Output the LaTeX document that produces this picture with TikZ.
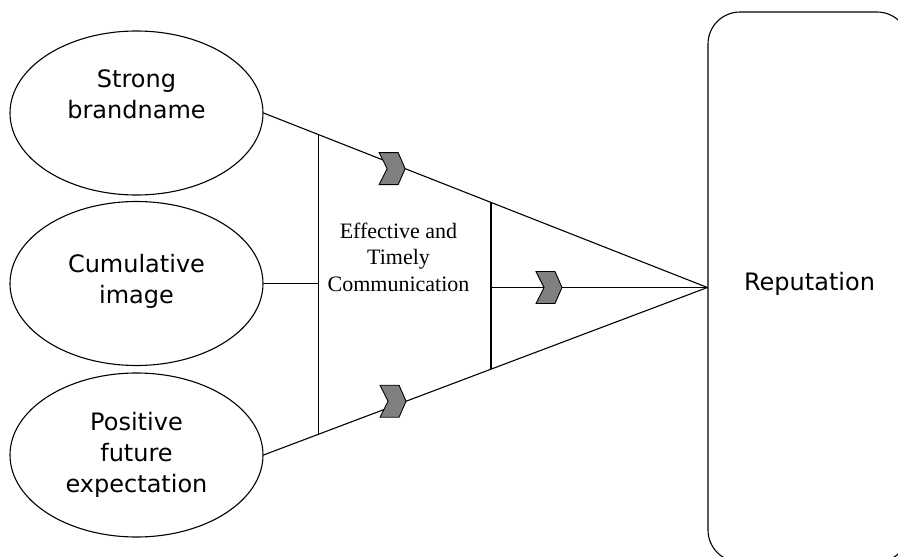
\documentclass[tikz,border=0pt]{standalone}
\usepackage{fontspec}
\setmainfont{Liberation Serif}
\newfontfamily\sansf{DejaVu Sans}
\usetikzlibrary{shapes.geometric,calc}
\tikzset{
  conn/.style={line width=1.1pt, draw=black},
  oval/.style={ellipse, draw=black, line width=1.1pt, minimum width=253pt, minimum height=164pt, inner sep=0pt},
  ovaltext/.style={anchor=base, inner sep=0pt, font=\sansf\fontsize{24}{31}\selectfont},
  commtext/.style={anchor=base, inner sep=0pt, font=\fontsize{22}{26.5}\selectfont},
  repbox/.style={rectangle, draw=black, line width=1.1pt, rounded corners=32pt, minimum width=201pt, minimum height=550pt, inner sep=0pt},
  chevfill/.style={fill=black!50, draw=black, line width=0.9pt, line join=miter},
  chev/.pic={\path[chevfill] (-26,-16) -- (-7,-16) -- (0,0) -- (-7,16) -- (-26,16) -- (-18,0) -- cycle;}
}
\newcommand{\lines}[1]{\begin{tabular}[t]{@{}c@{}}#1\end{tabular}}
\begin{document}
\begin{tikzpicture}[x=1pt, y=-1pt]
\useasboundingbox (0,0) rectangle (898,557);
% ellipses
\node[oval] (e1) at (136.5,113) {};
\node[oval] (e2) at (136.5,283.5) {};
\node[oval] (e3) at (136.5,455) {};
\node[ovaltext] (t1) at (136.5,87) {\lines{Strong\\brandname}};
\node[ovaltext] (t2) at (136.5,272) {\lines{Cumulative\\image}};
\node[ovaltext] (t3) at (136.5,430) {\lines{Positive\\future\\expectation}};
% reputation box
\node[repbox] (rep) at (808.5,287) {};
\node[ovaltext] (rt) at (809.5,290) {Reputation};
\coordinate (apex) at (rep.west |- 0,287.5);
% converging lines
\draw[conn] (e1.east) -- (apex);
\draw[conn] (e3.east) -- (apex);
% vertical bars
\coordinate (a1) at ($(e1.east)!0.1236!(apex)$);
\coordinate (b1) at ($(e3.east)!0.1236!(apex)$);
\coordinate (a2) at ($(e1.east)!0.5124!(apex)$);
\coordinate (b2) at ($(e3.east)!0.5124!(apex)$);
\draw[conn] (a1) -- (b1);
\draw[conn] (a2) -- (b2);
% middle lines
\coordinate (m1) at (a1 |- e2.east);
\draw[conn] (e2.east) -- (m1);
\coordinate (m2) at (a2 |- apex);
\draw[conn] (m2) -- (apex);
% communication text
\node[commtext] (comm) at (398.5,238) {\lines{Effective and\\Timely\\Communication}};
% chevrons
\coordinate (c1) at ($(e1.east)!0.319!(apex)$);
\coordinate (c3) at ($(e3.east)!0.321!(apex)$);
\coordinate (c2) at (562,287.5);
\pic at (c1) {chev};
\pic at (c2) {chev};
\pic at (c3) {chev};
\end{tikzpicture}
\end{document}
